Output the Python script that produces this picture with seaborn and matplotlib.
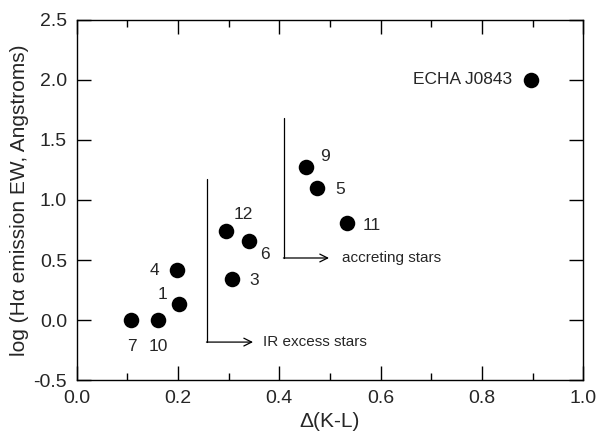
import matplotlib
matplotlib.use("Agg")
import matplotlib.pyplot as plt
import seaborn as sns
import pandas as pd
from matplotlib.ticker import MultipleLocator

# star data
star_ids = ["7", "10", "1", "4", "3", "12", "6", "9", "5", "11", "ECHA J0843"]
dkl = [0.108, 0.161, 0.202, 0.197, 0.306, 0.294, 0.341, 0.452, 0.474, 0.533, 0.897]
log_ha = [0.0, 0.0, 0.133, 0.417, 0.342, 0.742, 0.658, 1.278, 1.097, 0.806, 2.0]

# label positions (data coords) and alignment
label_x = [0.108, 0.160, 0.170, 0.154, 0.350, 0.328, 0.372, 0.490, 0.520, 0.583, 0.860]
label_y = [-0.22, -0.22, 0.21, 0.417, 0.333, 0.875, 0.55, 1.36, 1.09, 0.79, 2.0]
label_ha = ["center"] * 10 + ["right"]

stars = pd.DataFrame({"id": star_ids, "dkl": dkl, "logha": log_ha})

sns.set_style("ticks")
plt.rcParams["font.family"] = ["Liberation Sans", "DejaVu Sans"]

fig = plt.figure(figsize=(6, 4.4), dpi=100)
ax = fig.add_axes([0.128, 0.136, 0.844, 0.819])

sns.scatterplot(data=stars, x="dkl", y="logha", color="black", s=125,
                edgecolor="black", linewidth=0, ax=ax, legend=False)

for sid, lx, ly, ha in zip(star_ids, label_x, label_y, label_ha):
    ax.text(lx, ly, sid, fontsize=12.5, ha=ha, va="center")

# group brackets: vertical line then arrow to the right
ax.plot([0.257, 0.257], [1.175, -0.183], color="black", lw=0.9)
ax.annotate("", xy=(0.348, -0.183), xytext=(0.256, -0.183),
            arrowprops=dict(arrowstyle="->", color="black", lw=0.9,
                            mutation_scale=14, shrinkA=0, shrinkB=0))
ax.text(0.368, -0.183, "IR excess stars", fontsize=11, va="center")

ax.plot([0.409, 0.409], [1.683, 0.517], color="black", lw=0.9)
ax.annotate("", xy=(0.498, 0.517), xytext=(0.408, 0.517),
            arrowprops=dict(arrowstyle="->", color="black", lw=0.9,
                            mutation_scale=14, shrinkA=0, shrinkB=0))
ax.text(0.524, 0.517, "accreting stars", fontsize=11, va="center")

ax.set_xlim(0.0, 1.0)
ax.set_ylim(-0.5, 2.5)
ax.xaxis.set_major_locator(MultipleLocator(0.2))
ax.xaxis.set_minor_locator(MultipleLocator(0.1))
ax.yaxis.set_major_locator(MultipleLocator(0.5))
ax.xaxis.set_major_formatter(plt.FormatStrFormatter("%.1f"))
ax.yaxis.set_major_formatter(plt.FormatStrFormatter("%.1f"))
ax.tick_params(which="both", direction="in", top=True, right=True,
               labelsize=14, color="black", width=1)
ax.tick_params(which="major", length=10, pad=7)
ax.tick_params(which="minor", length=5)
for sp in ax.spines.values():
    sp.set_linewidth(1)
    sp.set_color("black")

ax.set_xlabel("\u0394(K-L)", fontsize=15, labelpad=4)
ax.set_ylabel("log (H\u03b1 emission EW, Angstroms)", fontsize=15, labelpad=3)

fig.savefig("out.png", dpi=100)
